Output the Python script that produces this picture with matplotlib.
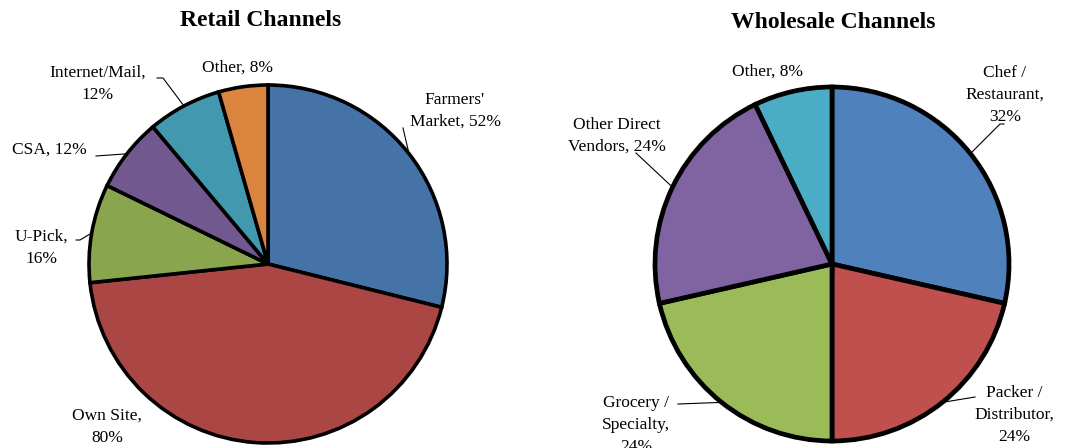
import numpy as np
import matplotlib.pyplot as plt

plt.rcParams['font.family'] = ['Liberation Serif', 'DejaVu Serif']

# survey shares (percent of respondents using each channel)
retail_labels = ["Farmers'\nMarket, 52%", "Own Site,\n80%", "U-Pick,\n16%",
                 "CSA, 12%", "Internet/Mail,\n12%", "Other, 8%"]
retail_values = [52, 80, 16, 12, 12, 8]
retail_colors = ['#4572A7', '#AA4643', '#89A54E', '#71588F', '#4198AF', '#DB843D']

wholesale_labels = ["Chef /\nRestaurant,\n32%", "Packer /\nDistributor,\n24%",
                    "Grocery /\nSpecialty,\n24%", "Other Direct\nVendors, 24%",
                    "Other, 8%"]
wholesale_values = [32, 24, 24, 24, 8]
wholesale_colors = ['#4F81BD', '#C0504D', '#9BBB59', '#8064A2', '#4BACC6']

W, H = 1079, 448
fig = plt.figure(figsize=(W / 100, H / 100), dpi=100)
ax = fig.add_axes([0, 0, 1, 1])
ax.set_xlim(0, W)
ax.set_ylim(0, H)
ax.axis('off')


def draw_pie(values, colors, labels, cx, cy, r, lw, label_pos, leaders):
    # cy given from the top edge
    yc = H - cy
    wedges, _ = ax.pie(values, colors=colors, startangle=90, counterclock=False,
                       center=(cx, yc), radius=r,
                       wedgeprops=dict(edgecolor='black', linewidth=lw))
    for w, lab, (tx, ty), lead in zip(wedges, labels, label_pos, leaders):
        ax.text(tx, H - ty, lab, ha='center', va='center', fontsize=12.5,
                linespacing=1.5)
        if lead is None:
            continue
        ang = np.deg2rad((w.theta1 + w.theta2) / 2)
        x0 = cx + r * np.cos(ang)
        y0 = yc + r * np.sin(ang)
        pts = [(x0, y0)] + [(px, H - py) for px, py in lead]
        xs, ys = zip(*pts)
        ax.plot(xs, ys, color='black', lw=0.8)


draw_pie(retail_values, retail_colors, retail_labels, 268, 264, 179, 2.6,
         [(455, 111), (107, 427), (41, 248), (49, 150), (98, 84), (237, 68)],
         [[(403, 128)], None, [(80, 240), (76, 240)], [(96, 156)],
          [(163, 78), (157, 78)], None])

draw_pie(wholesale_values, wholesale_colors, wholesale_labels, 832, 264, 177, 3.4,
         [(1005, 95), (1014, 415), (636, 425), (617, 136), (767, 72)],
         [[(1000, 124), (1004, 124)], [(975, 397)], [(678, 404)],
          [(636, 153)], None])

ax.text(261, H - 20, 'Retail Channels', ha='center', va='center',
        fontsize=17, fontweight='bold')
ax.text(833, H - 22, 'Wholesale Channels', ha='center', va='center',
        fontsize=17, fontweight='bold')

ax.set_xlim(0, W)
ax.set_ylim(0, H)
fig.savefig('out.png', dpi=100)
